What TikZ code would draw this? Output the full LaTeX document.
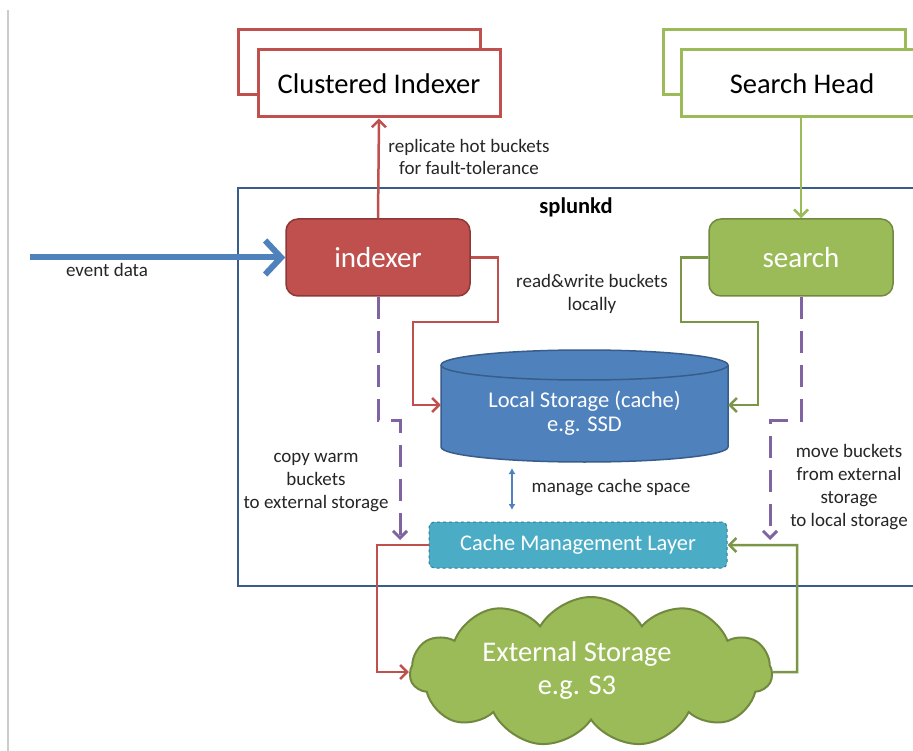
\documentclass[tikz,border=0pt]{standalone}
\usepackage{fontspec}
\setmainfont{Carlito}
\usetikzlibrary{arrows.meta,shapes.symbols,shapes.geometric}
\definecolor{cred}{HTML}{C0504D}
\definecolor{credd}{HTML}{8C3836}
\definecolor{cgreen}{HTML}{9BBB59}
\definecolor{cgreend}{HTML}{71893F}
\definecolor{cblue}{HTML}{4F81BD}
\definecolor{cblued}{HTML}{385D8A}
\definecolor{cpurple}{HTML}{8064A2}
\definecolor{cteal}{HTML}{4BACC6}
\definecolor{ctealdd}{HTML}{357D91}
\definecolor{ctext}{HTML}{262626}
\begin{document}
\begin{tikzpicture}[x=1pt,y=1pt,
 hostbox/.style={draw, line width=3pt, fill=white, minimum width=242pt, minimum height=67pt, inner sep=0pt, font=\fontsize{28.5}{32}\selectfont, text=black},
 proc/.style={rounded corners=12pt, draw, line width=1.5pt, minimum width=184pt, minimum height=77pt, inner sep=0pt, font=\fontsize{29}{32}\selectfont, text=white},
 lbl/.style={font=\fontsize{19}{22.5}\selectfont, text=ctext, align=center, inner sep=0pt},
 arr/.style={-{Straight Barb[length=7pt,width=14pt]}},
 redline/.style={draw=cred, line width=2.5pt},
 greenline/.style={draw=cgreen!80!black, line width=2.5pt},
 pdash/.style={draw=cpurple, line width=3pt, dash pattern=on 22pt off 12pt, arr}
]
\useasboundingbox (0,0) rectangle (913,-751);
\fill[white] (0,0) rectangle (913,-751);
\begin{scope}
\clip (0,0) rectangle (913,-751);
\draw[black!20, line width=1.5pt] (8,-10) -- (8,-751);

% host boxes
\draw[cred, line width=3pt] (238,-30) rectangle (480,-95);
\node[hostbox, draw=cred] (ci) at (379,-83.5) {Clustered Indexer};
\draw[cgreen, line width=3pt] (663,-30) rectangle (905,-95);
\node[hostbox, draw=cgreen] (sh) at (802,-83.5) {Search Head};

% splunkd frame
\draw[cblued, line width=2.5pt] (238,-188) rectangle (940,-586);
\node[font=\bfseries\fontsize{22.5}{26}\selectfont, text=black] (spl) at (576,-207) {splunkd};

% processes
\node[proc, fill=cred, draw=credd] (idx) at (378,-257.5) {indexer};
\node[proc, fill=cgreen, draw=cgreend] (srch) at (801,-257.5) {search};

% cylinder
\path[fill=cblue, draw=cblued, line width=1.5pt]
  (441,-365) -- (441,-447)
  arc[start angle=180, end angle=360, x radius=143.5pt, y radius=15pt]
  -- (728,-365)
  arc[start angle=0, end angle=180, x radius=143.5pt, y radius=15pt] -- cycle;
\draw[cblued, line width=1.5pt] (441,-365) arc[start angle=180, end angle=360, x radius=143.5pt, y radius=15pt];
\node[minimum width=287pt, minimum height=98pt, inner sep=0pt, text=white, align=center, font=\fontsize{22.5}{24}\selectfont] (ls) at (584.5,-413) {Local Storage (cache)\\e.g. SSD};

% cache management layer
\node[rounded corners=5pt, fill=cteal, draw=ctealdd, dashed, line width=1pt, minimum width=298pt, minimum height=46pt, inner sep=0pt, text=white, font=\fontsize{22.4}{24}\selectfont] (cml) at (578,-545) {Cache Management Layer};

% cloud
\node[cloud, cloud puffs=11, cloud puff arc=120, aspect=2.45, fill=cgreen, draw=cgreend, line width=2pt, minimum width=362pt, minimum height=150pt, inner sep=0pt] (ext) at (591,-672) {};
\node[text=white, align=center, inner sep=0pt, font=\fontsize{28.5}{33}\selectfont] (extt) at (577,-671) {External Storage\\e.g. S3};

% event data
\coordinate (ev) at (30,-257.5);
\draw[cblue, line width=6pt, -{Straight Barb[length=16pt,width=34pt]}] (ev) -- (idx.west);
\node[lbl] (evl) at (107,-270) {event data};

% replicate
\draw[redline, arr] (idx.north) -- (ci.south);
\node[lbl] (repl) at (469,-157) {replicate hot buckets\\for fault-tolerance};

% search head to search
\draw[greenline, draw=cgreen, arr] (sh.south -| srch.north) -- (srch.north);

% read & write
\draw[redline, arr] (idx.east) -- (498,-257.5) -- (498,-322) -- (413,-322) -- (413,-405) -- (ls.west |- 413,-405);
\draw[greenline, arr] (srch.west) -- (681,-257.5) -- (681,-322) -- (758,-322) -- (758,-405) -- (ls.east |- 758,-405);
\node[lbl] (rw) at (592,-294) {read\&write buckets\\locally};

% purple dashed
\coordinate (pl) at (400,-540);
\coordinate (pr) at (770,-540);
\draw[pdash] (idx.south) -- (378,-420) -- (400,-420) -- (pl);
\draw[pdash] (srch.south) -- (801,-420) -- (770,-420) -- (pr);
\node[lbl, font=\fontsize{19}{23}\selectfont] (cw) at (316,-483) {copy warm\\buckets\\to external storage};
\node[lbl, font=\fontsize{19}{22.7}\selectfont] (mb) at (849,-487) {move buckets\\from external\\storage\\to local storage};

% manage cache
\coordinate (m1) at (512,-468);
\coordinate (m2) at (512,-510);
\draw[cblue, line width=2pt, {Latex[length=6pt,width=7pt]}-{Latex[length=6pt,width=7pt]}] (m1) -- (m2);
\node[lbl] (mcs) at (611,-488) {manage cache space};

% to/from external
\draw[redline, arr] (cml.west) -- (377,-545) |- (ext.west);
\draw[greenline, arr] (ext.east) -- (797,-672) |- (cml.east);
\end{scope}
\end{tikzpicture}
\end{document}
